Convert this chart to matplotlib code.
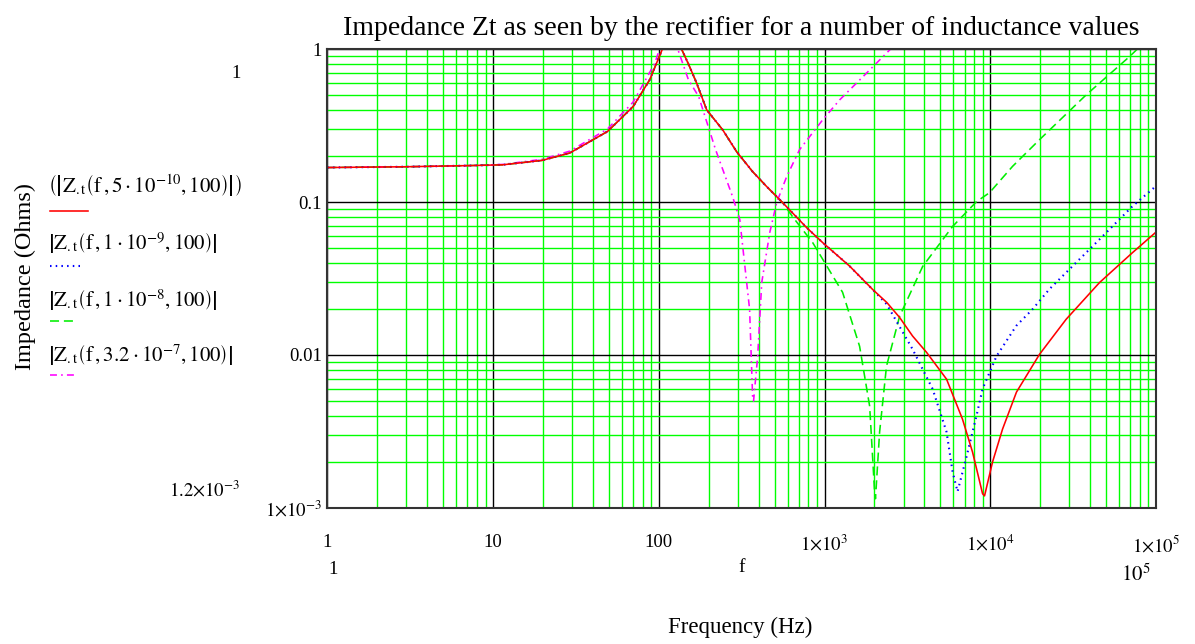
import matplotlib
matplotlib.use("Agg")
import matplotlib.pyplot as plt
from matplotlib.lines import Line2D
from matplotlib.ticker import LogLocator, NullFormatter

plt.rcParams['font.family'] = ['Liberation Serif', 'DejaVu Serif']
plt.rcParams['mathtext.fontset'] = 'stix'
plt.rcParams['lines.scale_dashes'] = False

# values (frequency in Hz, impedance in Ohms)
freq_red = [1, 3, 7.2, 11.4, 19.7, 29, 49, 70, 88, 104.5, 120, 137, 150, 169, 194.5, 243,
            295, 368, 448, 559, 780, 974, 1417, 1952, 2380, 2838, 3400, 4130, 5450, 6800,
            7820, 8990, 9240, 10330, 11870, 14400, 19830, 28700, 45600, 72100, 100000]
z_red = [0.168, 0.170, 0.173, 0.175, 0.187, 0.209, 0.289, 0.421, 0.628, 0.985, 1.5, 1.0,
         0.81, 0.60, 0.40, 0.296, 0.213, 0.158, 0.126, 0.099, 0.068, 0.0543, 0.0381,
         0.0268, 0.022, 0.0176, 0.0133, 0.0104, 0.00695, 0.00381, 0.00232, 0.00124,
         0.00120, 0.0020, 0.00328, 0.00572, 0.0101, 0.0171, 0.0297, 0.0466, 0.0635]

freq_blue = [1, 3, 7.2, 11.4, 19.7, 29, 49, 70, 88, 104.5, 120, 137, 150, 169, 194.5, 243,
             295, 368, 448, 559, 780, 974, 1417, 1952, 2370, 3400, 4490, 5450, 5930, 6350,
             7190, 8260, 8990, 10900, 14350, 18000, 22800, 28800, 45600, 72100, 100000]
z_blue = [0.168, 0.170, 0.173, 0.175, 0.187, 0.209, 0.289, 0.421, 0.628, 0.985, 1.5, 1.0,
          0.81, 0.60, 0.40, 0.296, 0.213, 0.158, 0.126, 0.099, 0.068, 0.0543, 0.0381,
          0.0268, 0.0215, 0.0109, 0.0060, 0.00314, 0.00172, 0.00128, 0.00216, 0.0040,
          0.0060, 0.0098, 0.0155, 0.0199, 0.027, 0.0347, 0.0569, 0.0937, 0.127]

freq_green = [1, 3, 7.2, 11.4, 19.7, 29, 49, 70, 88, 104.5, 120, 137, 150, 169, 194.5, 243,
              295, 368, 448, 559, 642, 848, 1285, 1628, 1872, 2005, 2030, 2150, 2366, 2838,
              3910, 5920, 8270, 9900, 13640, 19800, 37900, 69200, 77300, 100000]
z_green = [0.168, 0.170, 0.173, 0.175, 0.187, 0.209, 0.289, 0.421, 0.628, 0.985, 1.5, 1.0,
           0.81, 0.60, 0.40, 0.296, 0.213, 0.158, 0.126, 0.099, 0.080, 0.0543, 0.0257,
           0.0114, 0.00463, 0.00128, 0.00115, 0.00314, 0.00845, 0.0179, 0.0379, 0.0691,
           0.1006, 0.115, 0.171, 0.255, 0.501, 0.891, 1.0, 1.25]

freq_mag = [1, 3, 7.2, 11.4, 19.7, 29, 49, 70, 94.5, 101, 115, 130, 151, 174, 220, 279,
            308, 353, 368, 373, 395, 418, 467, 514, 591, 707, 974, 1234, 1698, 2470, 3000]
z_mag = [0.168, 0.170, 0.173, 0.176, 0.190, 0.215, 0.300, 0.450, 0.807, 1.0, 1.4, 1.0,
         0.628, 0.489, 0.22, 0.108, 0.0768, 0.0199, 0.0054, 0.0050, 0.0098, 0.0298,
         0.063, 0.099, 0.1465, 0.22, 0.344, 0.465, 0.656, 0.985, 1.2]

legend_texts = [
    r'$\left(\left|\mathrm{Z}_{.\mathrm{t}}\left(\mathrm{f}\,,5\cdot10^{-10},100\right)\right|\right)$',
    r'$\left|\mathrm{Z}_{.\mathrm{t}}\left(\mathrm{f}\,,1\cdot10^{-9},100\right)\right|$',
    r'$\left|\mathrm{Z}_{.\mathrm{t}}\left(\mathrm{f}\,,1\cdot10^{-8},100\right)\right|$',
    r'$\left|\mathrm{Z}_{.\mathrm{t}}\left(\mathrm{f}\,,3.2\cdot10^{-7},100\right)\right|$',
]

x_ticks = [1, 10, 100, 1000, 1e4, 1e5]
x_labels = ['1', '10', '100', r'$1{\times}10^{3}$', r'$1{\times}10^{4}$', r'$1{\times}10^{5}$']
y_ticks = [1e-3, 0.01, 0.1, 1]
y_labels = [r'$1{\times}10^{-3}$', '0.01', '0.1', '1']

fig = plt.figure(figsize=(11.95, 6.44), dpi=100)
ax = fig.add_axes([0.274, 0.2112, 0.6933, 0.7127])

red_style = dict(color='#ff0000', lw=1.15, linestyle='-')
blue_style = dict(color='#0000ff', lw=1.5, linestyle=(0, (1.1, 3.0)))
green_style = dict(color='#00ee00', lw=1.15, linestyle=(0, (6.5, 3.5)))
mag_style = dict(color='#ff00ff', lw=1.15, linestyle=(0, (5, 3, 1.2, 3)))

ax.plot(freq_mag, z_mag, **mag_style)
ax.plot(freq_green, z_green, **green_style)
ax.plot(freq_blue, z_blue, **blue_style)
ax.plot(freq_red, z_red, **red_style)

ax.set_xscale('log')
ax.set_yscale('log')
ax.set_xlim(1, 1e5)
ax.set_ylim(1e-3, 1)

ax.xaxis.set_minor_locator(LogLocator(base=10, subs=range(2, 10), numticks=20))
ax.yaxis.set_minor_locator(LogLocator(base=10, subs=range(2, 10), numticks=20))
ax.xaxis.set_minor_formatter(NullFormatter())
ax.yaxis.set_minor_formatter(NullFormatter())
ax.set_xticks(x_ticks)
ax.set_xticklabels(x_labels)
ax.set_yticks(y_ticks)
ax.set_yticklabels(y_labels)
ax.tick_params(which='both', length=0)
ax.tick_params(axis='x', pad=19, labelsize=13.5)
ax.tick_params(axis='y', pad=4, labelsize=13.5)
ax.grid(which='minor', color='#00ff00', lw=1.0)
ax.grid(which='major', color='black', lw=1.0)
ax.set_axisbelow(True)
for s in ax.spines.values():
    s.set_linewidth(1.5)
    s.set_color('#333333')

ax.set_title('Impedance Zt as seen by the rectifier for a number of inductance values',
             fontsize=20, pad=10)

# Mathcad style axis annotations
fig.text(740 / 1195, 1 - 627 / 644, 'Frequency (Hz)', fontsize=16.5, ha='center', va='center')
fig.text(742 / 1195, 1 - 567 / 644, 'f', fontsize=14, ha='center', va='center')
fig.text(333 / 1195, 1 - 570 / 644, '1', fontsize=13.5, ha='center', va='center')
fig.text(1136 / 1195, 1 - 575 / 644, r'$10^{5}$', fontsize=15, ha='center', va='center')
fig.text(236 / 1195, 1 - 73 / 644, '1', fontsize=13.5, ha='center', va='center')
fig.text(205 / 1195, 1 - 490 / 644, r'$1.2{\times}10^{-3}$', fontsize=13.5, ha='center', va='center')
fig.text(25 / 1195, 1 - 277 / 644, 'Impedance (Ohms)', fontsize=17.5, rotation=90,
         ha='center', va='center')

# legend expressions with their line samples
leg_y = [185, 243, 300, 355]
leg_line_y = [211, 266, 321, 375]
leg_line_x = [(50, 88), (50, 80), (50, 76), (50, 76)]
leg_styles = [red_style, blue_style, green_style, mag_style]
for txt, ty, ly, lx, st in zip(legend_texts, leg_y, leg_line_y, leg_line_x, leg_styles):
    fig.text(48 / 1195, 1 - ty / 644, txt, fontsize=15, ha='left', va='center')
    fig.add_artist(Line2D([lx[0] / 1195, lx[1] / 1195], [1 - ly / 644, 1 - ly / 644],
                          transform=fig.transFigure, **st))

fig.savefig('out.png', dpi=100)
